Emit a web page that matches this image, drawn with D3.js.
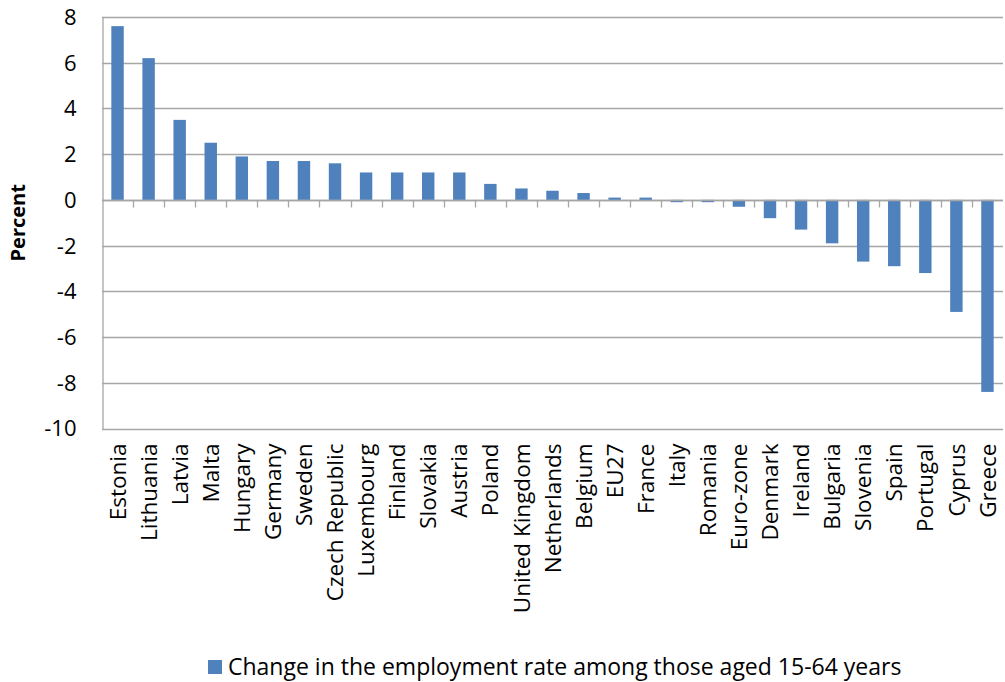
<!DOCTYPE html>
<html>
<head>
<meta charset="utf-8">
<script src="https://cdn.jsdelivr.net/npm/d3@7"></script>
<style>
  html, body { margin: 0; padding: 0; background: #fff; }
  svg { display: block; }
  text { font-family: "Open Sans", "Noto Sans", sans-serif; fill: #000; }
</style>
</head>
<body>
<svg id="chart" width="1005" height="682"></svg>
<script>
// Countries, ordered from largest gain to largest fall
const categories = [
  "Estonia", "Lithuania", "Latvia", "Malta", "Hungary", "Germany", "Sweden",
  "Czech Republic", "Luxembourg", "Finland", "Slovakia", "Austria", "Poland",
  "United Kingdom", "Netherlands", "Belgium", "EU27", "France", "Italy",
  "Romania", "Euro-zone", "Denmark", "Ireland", "Bulgaria", "Slovenia",
  "Spain", "Portugal", "Cyprus", "Greece"
];
// Change in employment rate, 15-64 years (percentage points)
const values = [
  7.6, 6.2, 3.5, 2.5, 1.9, 1.7, 1.7,
  1.6, 1.2, 1.2, 1.2, 1.2, 0.7,
  0.5, 0.4, 0.3, 0.1, 0.1, -0.1,
  -0.1, -0.3, -0.8, -1.3, -1.9, -2.7,
  -2.9, -3.2, -4.9, -8.4
];
const yTicks = [8, 6, 4, 2, 0, -2, -4, -6, -8, -10];
const seriesName = "Change in the employment rate among those aged 15-64 years";
const yTitle = "Percent";

const barColor = "#4F81BD";
const gridColor = "#A6A6A6";

const width = 1005, height = 682;
const plot = { left: 102, right: 1003, top: 17, bottom: 428.5 };
const svg = d3.select("#chart");

const x = d3.scaleBand()
  .domain(categories)
  .range([plot.left, plot.right])
  .paddingInner(0.6)
  .paddingOuter(0.3);

const y = d3.scaleLinear()
  .domain([-10, 8])
  .range([plot.bottom, plot.top]);

// Horizontal gridlines
svg.append("g")
  .selectAll("line")
  .data(yTicks)
  .join("line")
  .attr("x1", plot.left)
  .attr("x2", plot.right)
  .attr("y1", d => Math.round(y(d)) + 0.5)
  .attr("y2", d => Math.round(y(d)) + 0.5)
  .attr("stroke", gridColor)
  .attr("stroke-width", 1.3);

// Value axis on the left (plain hyphen for negatives)
const yAxis = svg.append("g")
  .attr("transform", `translate(${plot.left + 0.5},0)`)
  .call(d3.axisLeft(y)
    .tickValues(yTicks)
    .tickSize(0)
    .tickPadding(26)
    .tickFormat(d => String(d)));
yAxis.select(".domain").attr("stroke", gridColor).attr("stroke-width", 1.3);
yAxis.selectAll("text")
  .attr("font-size", 22)
  .attr("dy", "0.34em")
  .style("font-family", "'Open Sans', sans-serif");

// Bars
svg.append("g")
  .selectAll("rect")
  .data(values)
  .join("rect")
  .attr("x", (d, i) => x(categories[i]))
  .attr("width", x.bandwidth())
  .attr("y", d => y(Math.max(0, d)))
  .attr("height", d => Math.abs(y(d) - y(0)))
  .attr("fill", barColor);

// Category axis along zero, tick marks between bands
const boundaries = d3.range(1, categories.length)
  .map(i => plot.left + i * (plot.right - plot.left) / categories.length);
const zeroY = Math.round(y(0)) + 0.5;
svg.append("line")
  .attr("x1", plot.left).attr("x2", plot.right)
  .attr("y1", zeroY).attr("y2", zeroY)
  .attr("stroke", gridColor).attr("stroke-width", 1.3);
svg.append("g")
  .selectAll("line")
  .data(boundaries)
  .join("line")
  .attr("x1", d => Math.round(d) + 0.5)
  .attr("x2", d => Math.round(d) + 0.5)
  .attr("y1", zeroY)
  .attr("y2", zeroY + 7)
  .attr("stroke", gridColor)
  .attr("stroke-width", 1.3);

// Rotated category labels below the plot
svg.append("g")
  .selectAll("text")
  .data(categories)
  .join("text")
  .attr("transform", d => `translate(${x(d) + x.bandwidth() / 2},${y(-10) + 15}) rotate(-90)`)
  .attr("text-anchor", "end")
  .attr("dy", "0.36em")
  .attr("font-size", 22.5)
  .text(d => d);

// Axis title
svg.append("text")
  .attr("transform", `translate(18,${y(-1)}) rotate(-90)`)
  .attr("text-anchor", "middle")
  .attr("dy", "0.35em")
  .attr("font-size", 20)
  .attr("font-weight", "bold")
  .text(yTitle);

// Legend
const legend = svg.append("g").attr("transform", "translate(208,667)");
legend.append("rect")
  .attr("x", 0).attr("y", -7)
  .attr("width", 14).attr("height", 14)
  .attr("fill", barColor);
legend.append("text")
  .attr("x", 20)
  .attr("dy", "0.35em")
  .attr("font-size", 23)
  .text(seriesName);
</script>
</body>
</html>
